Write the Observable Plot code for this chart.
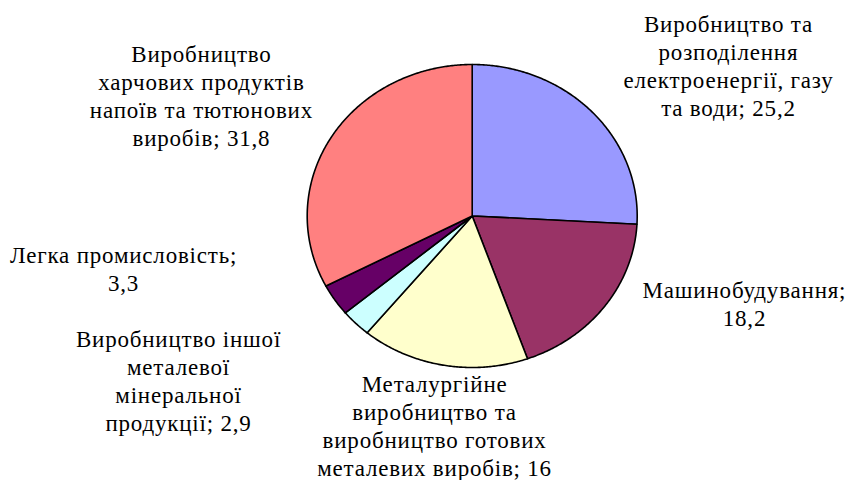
<!DOCTYPE html>
<html><head><meta charset="utf-8">
<script src="https://cdn.jsdelivr.net/npm/d3@7"></script>
<script src="https://cdn.jsdelivr.net/npm/@observablehq/plot@0.6"></script>
<style>html,body{margin:0;padding:0;background:#fff;font-family:"Liberation Serif",serif}
#chart svg, #chart svg text, #chart svg tspan{font-family:"Liberation Serif",serif !important;}
#chart svg text{letter-spacing:0.8px;}</style>
</head><body><div id="chart"></div><div style="height:0;overflow:hidden"></div>
<script>
// Data (clockwise from 12 o'clock)
const categories = [
  "Виробництво та\nрозподілення\nелектроенергії, газу\nта води",
  "Машинобудування",
  "Металургійне\nвиробництво та\nвиробництво готових\nметалевих виробів",
  "Виробництво іншої\nметалевої\nмінеральної\nпродукції",
  "Легка промисловість",
  "Виробництво\nхарчових продуктів\nнапоїв та тютюнових\nвиробів"
];
const values = [25.2, 18.2, 16, 2.9, 3.3, 31.8];

// Styles / layout (kept separate from the data)
const colors = ["#9999FF", "#993366", "#FFFFCC", "#CCFFFF", "#660066", "#FF8080"];
const valueOnNewLine = [false, true, false, false, true, false];
const labelX = [1.553, 1.650, -0.228, -1.780, -2.113, -1.641];
const labelY = [0.663, -0.723, -1.713, -1.416, -0.492, 0.465];

const fmt = v => String(v).replace(".", ",");
const total = d3.sum(values);

// Build slice outlines in unit coordinates (angle 0 = top, clockwise)
const slicePts = [];
let acc = 0;
values.forEach((v, i) => {
  const a0 = acc / total * 2 * Math.PI;
  acc += v;
  const a1 = acc / total * 2 * Math.PI;
  const n = Math.max(2, Math.ceil((a1 - a0) / (Math.PI / 360)));
  slicePts.push({k: i, x: 0, y: 0});
  for (let j = 0; j <= n; j++) {
    const a = a0 + (a1 - a0) * j / n;
    slicePts.push({k: i, x: Math.sin(a), y: Math.cos(a)});
  }
  slicePts.push({k: i, x: 0, y: 0});
});

const labelData = categories.map((c, i) => ({
  text: c + ";" + (valueOnNewLine[i] ? "\n" : " ") + fmt(values[i]),
  x: labelX[i], y: labelY[i]
}));

const chart = Plot.plot({
  width: 851, height: 480,
  margin: 0,
  style: {fontFamily: "Liberation Serif"},
  x: {domain: [-1, 1], range: [306.7, 636.7], axis: null},
  y: {domain: [-1, 1], range: [367, 64], axis: null},
  color: {domain: d3.range(values.length), range: colors},
  marks: [
    Plot.line(slicePts, {x: "x", y: "y", z: "k", fill: "k", stroke: "#000", strokeWidth: 1.6, strokeLinejoin: "round"}),
    Plot.text(labelData, {x: "x", y: "y", text: "text", fontFamily: "Liberation Serif", fontSize: 23, lineHeight: 1.217, lineAnchor: "bottom", textAnchor: "middle", fill: "#000"})
  ]
});
document.getElementById("chart").appendChild(chart);
</script>
</body></html>
